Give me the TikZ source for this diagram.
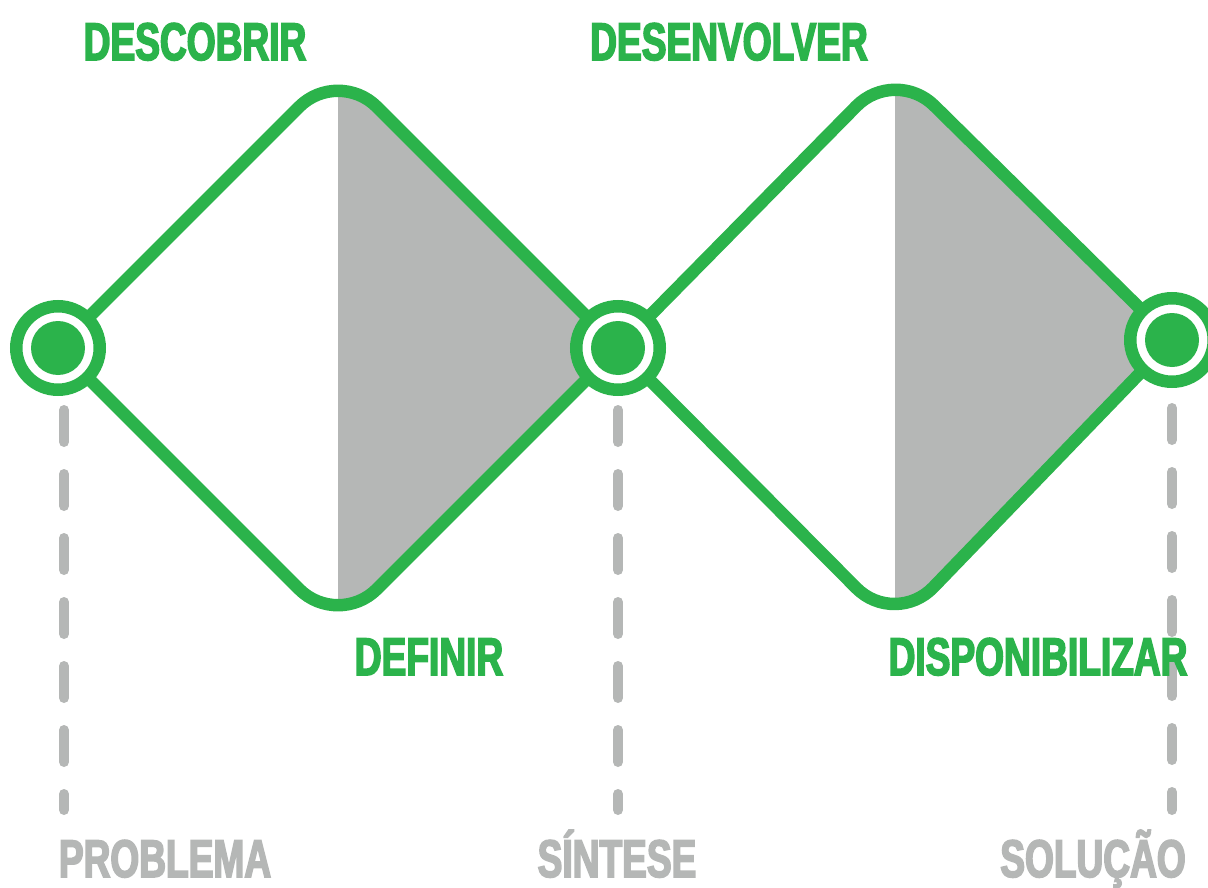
\documentclass[tikz,border=0pt]{standalone}
\usepackage{fontspec}
\usepackage{tikz}
\usetikzlibrary{positioning}
\newfontfamily\headfont{Liberation Sans}[FakeStretch=0.70,BoldFeatures={FakeBold=3}]
\definecolor{Green}{HTML}{2BB34B}
\definecolor{Ash}{HTML}{B5B7B6}
\tikzset{
  track/.style={draw=Green,line width=12.5pt,line cap=round,line join=round},
  half/.style={fill=Ash},
  hub/.style={
    circle,draw=Green,line width=12.5pt,fill=white,
    minimum size=83.5pt,inner sep=0pt,
    path picture={\fill[Green] (path picture bounding box.center) circle (27pt);}
  },
  guide/.style={draw=Ash,line width=10pt,line cap=round,dash pattern=on 32pt off 32pt},
  phase/.style={
    font=\headfont\bfseries\fontsize{53}{53}\selectfont,
    text=Green,anchor=base,inner sep=0pt
  },
  milestone/.style={phase,text=Ash,text depth=0pt}
}
\begin{document}
\begin{tikzpicture}[x=1pt,y=-1pt]
      \useasboundingbox (0,0) rectangle (1208,888);
      \coordinate (p1) at (58,348);
      \coordinate (p2) at (618,348);
      \coordinate (p3) at (1172,340);
      \coordinate (top1) at (338,68);
      \coordinate (bot1) at (338,628);
      \coordinate (top2) at (895,67);
      \coordinate (bot2) at (895,627);

      \begin{scope}
        \clip (338,0) rectangle (618,888);
        \fill[half,rounded corners=55pt] (p2) -- (top1) -- (p1) -- (bot1) -- (p2);
      \end{scope}
      \begin{scope}
        \clip (895,0) rectangle (1172,888);
        \fill[half,rounded corners=55pt] (p3) -- (top2) -- (p2) -- (bot2) -- (p3);
      \end{scope}

      \draw[track,rounded corners=55pt]
        (p1) -- (top1) -- (p2)  (p1) -- (bot1) -- (p2)
        (p2) -- (top2) -- (p3)  (p2) -- (bot2) -- (p3);

      \node[hub] (problemhub) at (p1) {};
      \node[hub] (synthhub) at (p2) {};
      \node[hub] (solvedhub) at (p3) {};

      \coordinate (g1a) at (64,410);   \coordinate (g1b) at (64,810);
      \coordinate (g2a) at (618,410);  \coordinate (g2b) at (618,810);
      \coordinate (g3a) at (1172,408); \coordinate (g3b) at (1172,810);
      \draw[guide] (g1a) -- (g1b);
      \draw[guide] (g2a) -- (g2b);
      \draw[guide] (g3a) -- (g3b);

      \node[phase] (descobrir) at (195,60) {DESCOBRIR};
      \node[phase] (desenvolver) at (729,60) {DESENVOLVER};
      \node[phase] (definir) at (429,675) {DEFINIR};
      \node[phase] (disponibilizar) at (1038,675) {DISPONIBILIZAR};
      \node[milestone] (problema) at (165,877) {PROBLEMA};
      \node[milestone] (sintese) at (617,877) {SÍNTESE};
      \node[milestone] (solucao) at (1093,877) {SOLUÇÃO};
    \end{tikzpicture}
\end{document}
